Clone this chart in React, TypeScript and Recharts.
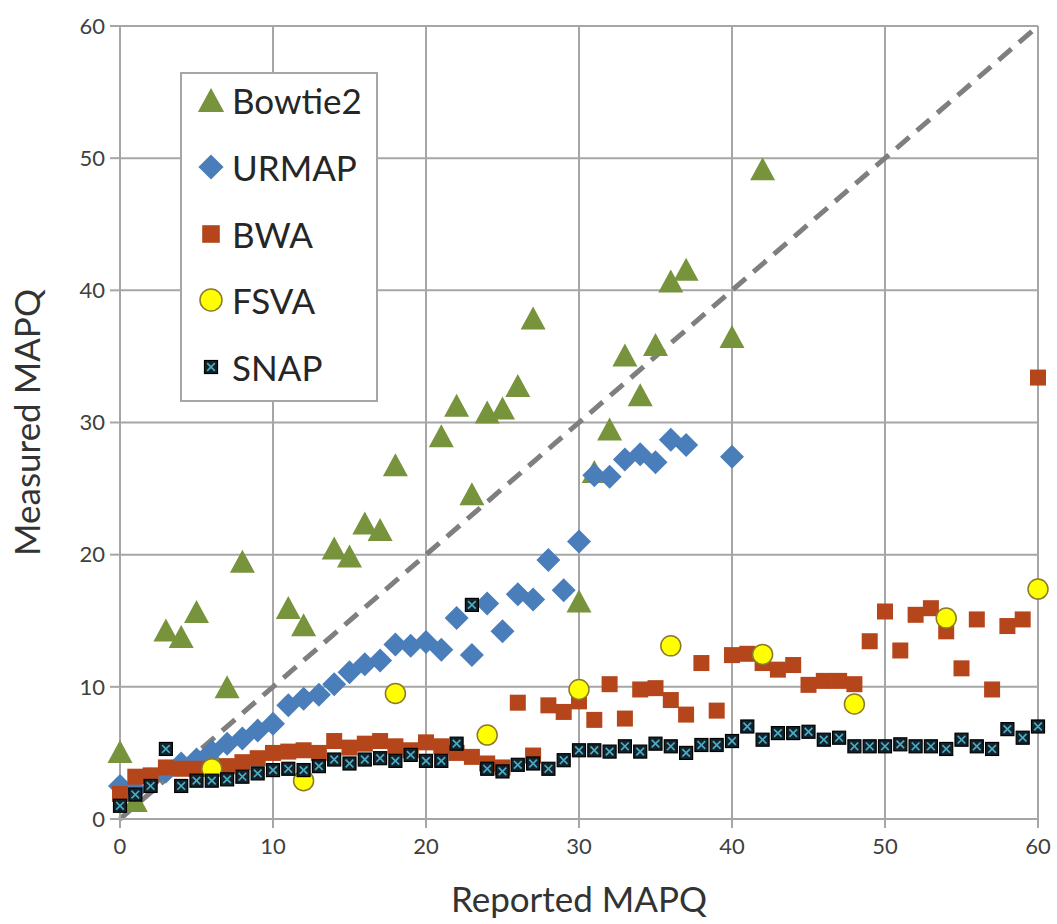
import { ScatterChart, Scatter, XAxis, YAxis, CartesianGrid, ReferenceLine } from "recharts";

const axisTicks = [0, 10, 20, 30, 40, 50, 60];

const bowtieX = [0, 1, 3, 4, 5, 6, 7, 8, 11, 12, 14, 15, 16, 17, 18, 21, 22, 23, 24, 25, 26, 27, 30, 31, 32, 33, 34, 35, 36, 37, 40, 42];
const bowtieY = [5.1, 1.4, 14.3, 13.8, 15.7, 4.8, 10, 19.5, 16, 14.7, 20.5, 19.9, 22.4, 21.9, 26.8, 29, 31.3, 24.6, 30.8, 31.1, 32.8, 37.9, 16.5, 26.3, 29.5, 35.1, 32.1, 35.9, 40.7, 41.6, 36.5, 49.2];

const urmapX = [0, 1, 2, 3, 4, 5, 6, 7, 8, 9, 10, 11, 12, 13, 14, 15, 16, 17, 18, 19, 20, 21, 22, 23, 24, 25, 26, 27, 28, 29, 30, 31, 32, 33, 34, 35, 36, 37, 40];
const urmapY = [2.5, 2.2, 3.0, 3.6, 4.2, 4.5, 5.1, 5.7, 6.1, 6.7, 7.2, 8.6, 9.1, 9.4, 10.2, 11.1, 11.7, 12.0, 13.2, 13.1, 13.4, 12.8, 15.2, 12.4, 16.3, 14.2, 17.0, 16.6, 19.6, 17.3, 21.0, 26.0, 25.9, 27.2, 27.6, 27.0, 28.7, 28.3, 27.4];

const allX = [0, 1, 2, 3, 4, 5, 6, 7, 8, 9, 10, 11, 12, 13, 14, 15, 16, 17, 18, 19, 20, 21, 22, 23, 24, 25, 26, 27, 28, 29, 30, 31, 32, 33, 34, 35, 36, 37, 38, 39, 40, 41, 42, 43, 44, 45, 46, 47, 48, 49, 50, 51, 52, 53, 54, 55, 56, 57, 58, 59, 60];
const bwaY = [1.9, 3.2, 3.3, 3.9, 3.8, 3.8, 3.8, 4.0, 4.3, 4.6, 5.0, 5.1, 5.2, 5.0, 5.9, 5.4, 5.7, 5.9, 5.5, 5.2, 5.8, 5.5, 5.0, 4.7, 4.2, 3.9, 8.8, 4.8, 8.6, 8.1, 8.9, 7.5, 10.2, 7.6, 9.8, 9.9, 9.0, 7.9, 11.8, 8.2, 12.4, 12.5, 11.8, 11.3, 11.65, 10.15, 10.45, 10.45, 10.2, 13.45, 15.7, 12.75, 15.45, 15.95, 14.2, 11.4, 15.1, 9.8, 14.6, 15.1, 33.4];
const snapY = [1.0, 1.85, 2.5, 5.3, 2.5, 2.9, 2.9, 3.0, 3.2, 3.45, 3.7, 3.8, 3.7, 4.0, 4.5, 4.2, 4.5, 4.6, 4.4, 4.85, 4.4, 4.4, 5.7, 16.2, 3.8, 3.6, 4.1, 4.2, 3.8, 4.45, 5.2, 5.2, 5.1, 5.5, 5.1, 5.7, 5.5, 5.0, 5.6, 5.6, 5.9, 7.0, 6.0, 6.5, 6.5, 6.6, 6.0, 6.15, 5.5, 5.5, 5.5, 5.65, 5.5, 5.5, 5.3, 6.0, 5.5, 5.3, 6.8, 6.15, 7.0];

const fsvaX = [6, 12, 18, 24, 30, 36, 42, 48, 54, 60];
const fsvaY = [3.8, 2.9, 9.5, 6.35, 9.8, 13.1, 12.45, 8.7, 15.2, 17.4];

const pts = (xs: number[], ys: number[]) => xs.map((x, i) => ({ x, y: ys[i] }));

const GREEN = "#77933C";
const BLUE = "#4A7EBB";
const RUST = "#B5461B";
const YELLOW = "#FFFF00";
const TEAL = "#4BACC6";

function Tri({ cx, cy, s = 1 }: any) {
  const w = 12.5 * s, h = 11.5 * s;
  return <polygon points={`${cx},${cy - h} ${cx + w},${cy + h} ${cx - w},${cy + h}`} fill={GREEN} />;
}
function Dia({ cx, cy, s = 1 }: any) {
  const r = 12 * s;
  return <polygon points={`${cx},${cy - r} ${cx + r},${cy} ${cx},${cy + r} ${cx - r},${cy}`} fill={BLUE} />;
}
function Sq({ cx, cy, s = 1 }: any) {
  const h = 8 * s;
  return <rect x={cx - h} y={cy - h} width={2 * h} height={2 * h} fill={RUST} />;
}
function Circ({ cx, cy, s = 1 }: any) {
  return <circle cx={cx} cy={cy} r={10 * s} fill={YELLOW} stroke="#8C7A2C" strokeWidth={1.5} />;
}
function Snap({ cx, cy, s = 1 }: any) {
  const h = 6.5 * s, k = 3.8 * s;
  return (
    <g>
      <rect x={cx - h} y={cy - h} width={2 * h} height={2 * h} fill="#13232B" stroke="#000" strokeWidth={1.2} />
      <line x1={cx - k} y1={cy - k} x2={cx + k} y2={cy + k} stroke={TEAL} strokeWidth={1.7} />
      <line x1={cx - k} y1={cy + k} x2={cx + k} y2={cy - k} stroke={TEAL} strokeWidth={1.7} />
    </g>
  );
}

const legendItems = [
  { name: "Bowtie2", Mark: Tri, s: 1.05 },
  { name: "URMAP", Mark: Dia, s: 1.05 },
  { name: "BWA", Mark: Sq, s: 1.1 },
  { name: "FSVA", Mark: Circ, s: 1.1 },
  { name: "SNAP", Mark: Snap, s: 1.0 },
];

export default function App() {
  return (
    <div style={{ position: "absolute", left: 0, top: 0, width: 1057, height: 924, background: "#fff", fontFamily: "Lato, sans-serif" }}>
      <ScatterChart width={1057} height={924} margin={{ top: 26, right: 19, bottom: 0, left: 0 }}>
        <CartesianGrid stroke="#A6A6A6" strokeWidth={2} />
        <XAxis
          type="number"
          dataKey="x"
          domain={[0, 60]}
          ticks={axisTicks}
          height={105}
          tickSize={9}
          tickMargin={10}
          axisLine={{ stroke: "#A6A6A6", strokeWidth: 2 }}
          tickLine={{ stroke: "#A6A6A6", strokeWidth: 2 }}
          tick={{ fill: "#404040", fontSize: 22 }}
          label={{ value: "Reported MAPQ", position: "insideBottom", offset: 12, fill: "#333333", fontSize: 35 }}
        />
        <YAxis
          type="number"
          dataKey="y"
          domain={[0, 60]}
          ticks={axisTicks}
          width={120}
          tickSize={10}
          tickMargin={5}
          axisLine={{ stroke: "#A6A6A6", strokeWidth: 2 }}
          tickLine={{ stroke: "#A6A6A6", strokeWidth: 2 }}
          tick={{ fill: "#404040", fontSize: 22 }}
          label={{ value: "Measured MAPQ", angle: -90, position: "insideLeft", offset: 28, fill: "#333333", fontSize: 35, style: { textAnchor: "middle" } }}
        />
        <Scatter name="Bowtie2" data={pts(bowtieX, bowtieY)} shape={(p: any) => <Tri cx={p.cx} cy={p.cy} />} isAnimationActive={false} />
        <Scatter name="URMAP" data={pts(urmapX, urmapY)} shape={(p: any) => <Dia cx={p.cx} cy={p.cy} />} isAnimationActive={false} />
        <Scatter name="BWA" data={pts(allX, bwaY)} shape={(p: any) => <Sq cx={p.cx} cy={p.cy} />} isAnimationActive={false} />
        <Scatter name="FSVA" data={pts(fsvaX, fsvaY)} shape={(p: any) => <Circ cx={p.cx} cy={p.cy} />} isAnimationActive={false} />
        <Scatter name="SNAP" data={pts(allX, snapY)} shape={(p: any) => <Snap cx={p.cx} cy={p.cy} />} isAnimationActive={false} />
        <ReferenceLine segment={[{ x: 0, y: 0 }, { x: 60, y: 60 }]} stroke="#7F7F7F" strokeWidth={5} strokeDasharray="17 10" />
      </ScatterChart>
      <div style={{ position: "absolute", left: 180, top: 72, width: 198, height: 330, boxSizing: "border-box", border: "2px solid #A6A6A6", background: "#fff" }}>
        {legendItems.map((it, i) => (
          <div key={it.name} style={{ position: "absolute", left: 0, top: 26 + i * 66.8 - 20, height: 40, width: 194 }}>
            <svg width={40} height={40} style={{ position: "absolute", left: 9, top: 0 }}>
              <it.Mark cx={20} cy={20} s={it.s} />
            </svg>
            <span style={{ position: "absolute", left: 50, top: 0, lineHeight: "40px", fontSize: 35, color: "#262626", whiteSpace: "nowrap" }}>{it.name}</span>
          </div>
        ))}
      </div>
    </div>
  );
}
